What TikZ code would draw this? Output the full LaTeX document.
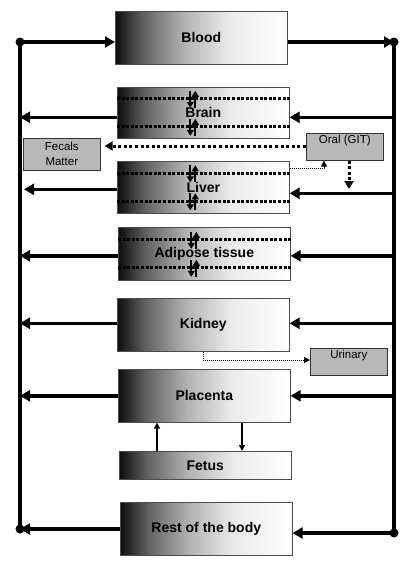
\documentclass[tikz,border=0pt]{standalone}
\usepackage{fontspec}
\setmainfont{Liberation Sans}
\usepackage{tikz}
\usetikzlibrary{arrows.meta}

\pgfdeclarehorizontalshading{organfade}{100bp}{color(0bp)=(black); color(25bp)=(black!95); color(33bp)=(black!62); color(45bp)=(black!30); color(58bp)=(black!8); color(75bp)=(white); color(100bp)=(white)}

\begin{document}
\begin{tikzpicture}[x=1pt,y=-1pt]
			\tikzstyle{organ} = [draw=black!70, line width=0.6pt, shading=organfade, minimum width=172pt, minimum height=53pt, inner sep=0pt, anchor=north west, font=\fontsize{14}{16}\selectfont\bfseries]
			\tikzstyle{outlet} = [draw=black!80, line width=0.6pt, fill=black!28, minimum width=77pt, inner ysep=2pt, anchor=north west, font=\fontsize{11.5}{15}\selectfont]
			\tikzstyle{flow} = [line width=3.5pt, -{Triangle[length=10pt,width=11pt]}]
			\tikzstyle{route} = [line width=3pt, dash pattern=on 3pt off 2.6pt, -{Triangle[length=8pt,width=9pt]}]
			\tikzstyle{leak} = [line width=1pt, densely dotted, -{Triangle[length=6pt,width=6pt]}]
			\tikzstyle{barrier} = [line width=2.8pt, dash pattern=on 3pt off 1.6pt]
			\tikzstyle{swap} = [line width=2pt, -{Triangle[length=6pt,width=7pt]}]
			\tikzstyle{feed} = [line width=1.5pt, -{Triangle[length=6pt,width=6pt]}]
			\tikzstyle{joint} = [circle, fill=black, inner sep=0pt, minimum size=9pt]
			\useasboundingbox (0,0) rectangle (410,568);

			% compartments
			\node[organ] (blood) at (115,11) {Blood};
			\node[organ, minimum height=51pt] (brain) at (117,87) {Brain};
			\node[organ, minimum height=52pt] (liver) at (117,161) {Liver};
			\node[organ, minimum height=53pt] (adipose) at (118,227) {Adipose tissue};
			\node[organ] (kidney) at (117,298) {Kidney};
			\node[organ] (placenta) at (118,369) {Placenta};
			\node[organ, minimum height=28pt] (fetus) at (119,451) {Fetus};
			\node[organ] (rest) at (120,502) {Rest of the body};

			% in and out
			\node[outlet, text height=8.5pt, text depth=14.5pt] (oral) at (306,133) {Oral (GIT)};
			\node[outlet, minimum height=32pt, align=center] (fecals) at (23,138) {Fecals\\Matter};
			\node[outlet, text height=8.5pt, text depth=14.5pt] (urinary) at (310,348) {Urinary};

			% circulation
			\node[joint] (lt) at (20,42) {};
			\node[joint] (lb) at (20,529) {};
			\node[joint] (rt) at (394,42) {};
			\node[joint] (rb) at (394,533) {};
			\draw[line width=3.5pt] (lt.center) -- (lb.center);
			\draw[line width=3.5pt] (rt.center) -- (rb.center);

			\draw[flow] (lt.center) -- (lt -| blood.west);
			\draw[flow] (lt -| blood.east) -- (rt.center);
			\draw[flow, transform canvas={yshift=-4.5pt}] (rt |- brain.east) -- (brain.east);
			\draw[flow, transform canvas={yshift=-4.5pt}] (brain.west) -- (lt |- brain.west);
			\draw[flow, transform canvas={yshift=-6pt}] (rt |- liver.east) -- (liver.east);
			\draw[flow, transform canvas={yshift=-2pt}] (liver.west) -- ([xshift=4pt]lt |- liver.west);
			\draw[flow, transform canvas={yshift=-2pt}] (rt |- adipose.east) -- (adipose.east);
			\draw[flow, transform canvas={yshift=-2pt}] (adipose.west) -- (lt |- adipose.west);
			\draw[flow, transform canvas={yshift=1.5pt}] (rt |- kidney.east) -- (kidney.east);
			\draw[flow, transform canvas={yshift=1.5pt}] (kidney.west) -- (lt |- kidney.west);
			\draw[flow] (rt |- placenta.east) -- (placenta.east);
			\draw[flow] (placenta.west) -- (lt |- placenta.west);
			\draw[flow] (rb.center) -- (rb -| rest.east);
			\draw[flow] (lb -| rest.west) -- (lb.center);

			% membranes
			\foreach \n in {brain,liver,adipose}{
				\draw[barrier] ([yshift=14pt]\n.west) -- ([yshift=14pt]\n.east);
				\draw[barrier] ([yshift=-14pt]\n.west) -- ([yshift=-14pt]\n.east);
				\foreach \dy in {14,-14}{
					\draw[swap] ([xshift=-13pt,yshift=\dy pt+8pt]\n.center) -- ([xshift=-13pt,yshift=\dy pt-9pt]\n.center);
					\draw[swap] ([xshift=-8pt,yshift=\dy pt-9pt]\n.center) -- ([xshift=-8pt,yshift=\dy pt+8pt]\n.center);
				}
			}

			% elimination and uptake
			\draw[route] (oral.west |- 0,146) -- ([xshift=4pt]fecals.east |- 0,146);
			\draw[route] (oral.south -| 349,0) -- (349,189);
			\draw[leak] ([yshift=-7pt]liver.north east) -| (oral.south -| 324,0);
			\draw[leak] (kidney.south -| 203,0) |- (urinary.west |- 0,360);
			\draw[feed] (fetus.north -| 157,0) -- (placenta.south -| 157,0);
			\draw[feed] (placenta.south -| 242,0) -- (fetus.north -| 242,0);
\end{tikzpicture}
\end{document}
